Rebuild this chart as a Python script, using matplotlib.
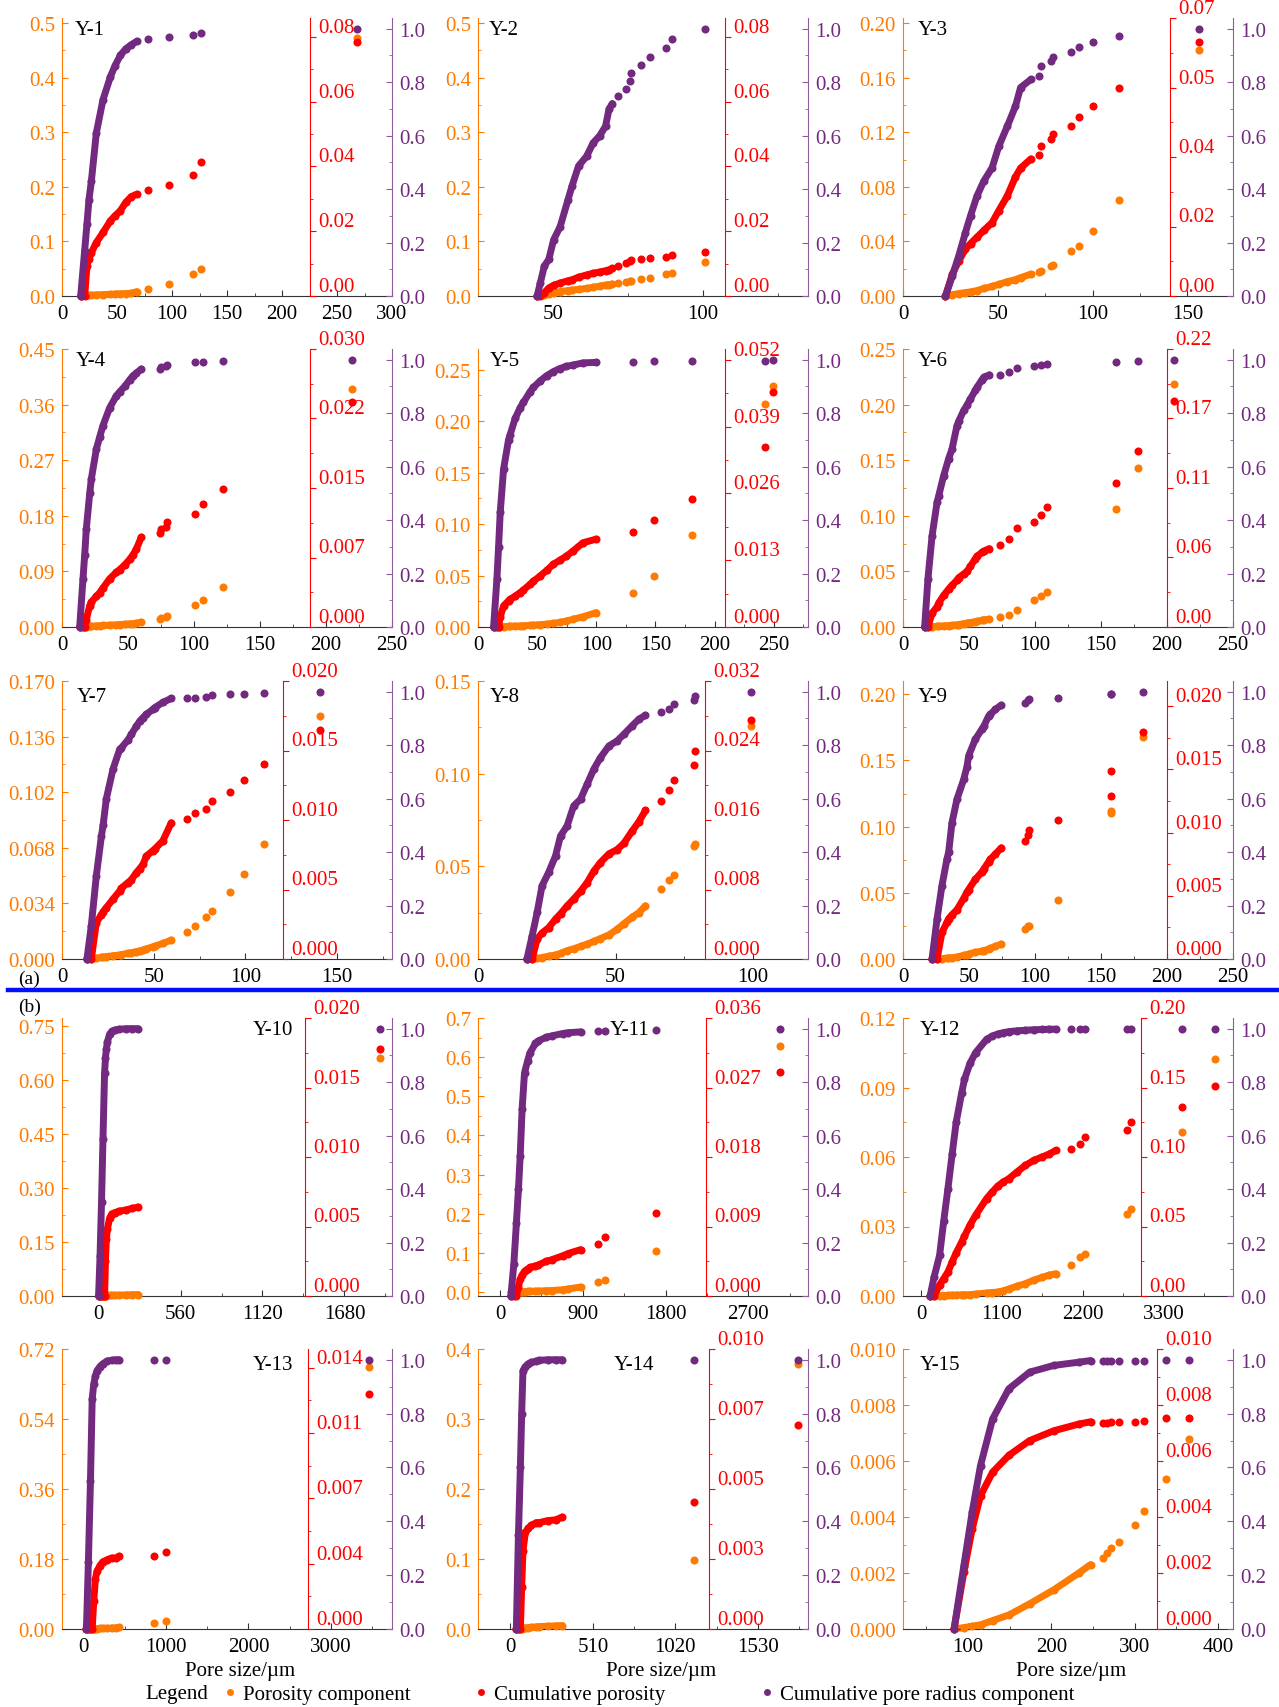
import numpy as np
import matplotlib
matplotlib.use("Agg")
import matplotlib.pyplot as plt
from matplotlib.lines import Line2D
from matplotlib.ticker import MultipleLocator, AutoMinorLocator, FormatStrFormatter

plt.rcParams['font.family'] = ['Liberation Serif', 'DejaVu Serif']
plt.rcParams['font.size'] = 15

ORANGE = '#FF7A00'
RED = '#FF0000'
PURPLE = '#72297F'

# ---- data: pore size, porosity component, cumulative porosity, cumulative pore radius component
y1_size = [17, 20.6, 22.7, 24.5, 26.7, 31.2, 37.3, 44, 48, 53, 58, 63, 68, 78, 97, 119, 126, 268]
y1_por = [0, 0.001, 0.001, 0.0012, 0.0015, 0.002, 0.0025, 0.003, 0.0035, 0.004, 0.0045, 0.005, 0.008, 0.0122, 0.0214, 0.041, 0.049, 0.472]
y1_cum = [0, 0, 0.0093, 0.0115, 0.0134, 0.0165, 0.0196, 0.0232, 0.0247, 0.0263, 0.0289, 0.0307, 0.0314, 0.0327, 0.0342, 0.0374, 0.0413, 0.0784]
y1_rad = [0, 0.17, 0.27, 0.36, 0.43, 0.61, 0.735, 0.82, 0.86, 0.90, 0.925, 0.94, 0.953, 0.96, 0.97, 0.975, 0.984, 1.0]

y2_size = [44.7, 45.8, 47.1, 48.6, 50.2, 52.4, 55, 56.3, 58.5, 61.2, 63.4, 65.6, 67.5, 68.7, 69.8, 71.7, 74.4, 75.6, 76.0, 79.2, 82.4, 87.7, 89.5, 100.7]
y2_por = [0, 0.001, 0.002, 0.004, 0.006, 0.008, 0.010, 0.011, 0.012, 0.014, 0.016, 0.018, 0.020, 0.021, 0.022, 0.023, 0.026, 0.027, 0.0275, 0.0306, 0.0336, 0.041, 0.043, 0.063]
y2_cum = [0, 0, 0.001, 0.0025, 0.0033, 0.004, 0.0047, 0.005, 0.0058, 0.0065, 0.007, 0.0074, 0.0078, 0.0081, 0.0085, 0.0093, 0.0103, 0.0108, 0.011, 0.0113, 0.0116, 0.0121, 0.0127, 0.0137]
y2_rad = [0, 0.05, 0.112, 0.137, 0.21, 0.26, 0.36, 0.41, 0.486, 0.523, 0.573, 0.6, 0.635, 0.70, 0.72, 0.747, 0.775, 0.803, 0.834, 0.865, 0.894, 0.926, 0.96, 1.0]

y3_size = [22.4, 26, 29.4, 32.9, 35.6, 39, 42.6, 47, 50.5, 55, 59.3, 62, 67.4, 71.7, 72.9, 78.2, 79, 88.7, 92.8, 100.2, 113.9, 156.2]
y3_por = [0, 0.001, 0.0018, 0.0025, 0.003, 0.004, 0.0055, 0.007, 0.0085, 0.0105, 0.012, 0.0134, 0.016, 0.0176, 0.0183, 0.022, 0.023, 0.033, 0.037, 0.0477, 0.070, 0.180]
y3_cum = [0, 0.0055, 0.0088, 0.0118, 0.0132, 0.0148, 0.0165, 0.0185, 0.0215, 0.0252, 0.030, 0.0322, 0.0345, 0.0355, 0.0378, 0.0395, 0.0408, 0.0429, 0.0451, 0.0479, 0.0525, 0.0639]
y3_rad = [0, 0.075, 0.15, 0.237, 0.30, 0.374, 0.43, 0.48, 0.56, 0.635, 0.71, 0.78, 0.81, 0.824, 0.86, 0.878, 0.894, 0.913, 0.93, 0.949, 0.974, 1.0]

y4_size = [13.4, 15.9, 17.2, 18.4, 21, 22.2, 26, 28.5, 31, 36.1, 41.2, 43.7, 47.5, 51.3, 53.8, 56.3, 60.1, 74.5, 75.3, 79, 79.5, 100.5, 106.8, 122, 219.7]
y4_por = [0, 0, 0, 0.0005, 0.001, 0.0012, 0.0018, 0.002, 0.0025, 0.003, 0.0035, 0.004, 0.0045, 0.005, 0.0055, 0.006, 0.008, 0.0135, 0.0145, 0.0167, 0.017, 0.036, 0.043, 0.065, 0.385]
y4_cum = [0, 0, 0, 0.0008, 0.0023, 0.0027, 0.0033, 0.0037, 0.0042, 0.0052, 0.0059, 0.0062, 0.0067, 0.0073, 0.0078, 0.0084, 0.0097, 0.0101, 0.0106, 0.0108, 0.0113, 0.0122, 0.0133, 0.0149, 0.0243]
y4_rad = [0, 0.18, 0.27, 0.366, 0.5, 0.553, 0.665, 0.71, 0.753, 0.82, 0.865, 0.88, 0.90, 0.925, 0.94, 0.95, 0.965, 0.965, 0.971, 0.978, 0.981, 0.99, 0.992, 0.996, 1.0]

y5_size = [13.2, 16, 17.4, 18.8, 21.6, 25.8, 27.2, 31.4, 35.6, 38.4, 44, 46.8, 52.4, 58, 63.6, 69.2, 74.8, 80.4, 88.8, 100, 130.8, 149, 180.7, 242.9, 249]
y5_por = [0, 0, 0, 0.0002, 0.0004, 0.0006, 0.0007, 0.0009, 0.001, 0.0012, 0.0016, 0.0018, 0.0022, 0.0028, 0.0035, 0.0045, 0.0058, 0.0075, 0.010, 0.014, 0.0327, 0.0496, 0.089, 0.2166, 0.2344]
y5_cum = [0, 0, 0, 0.002, 0.0041, 0.0051, 0.0054, 0.006, 0.0067, 0.0072, 0.0083, 0.0089, 0.0099, 0.011, 0.0122, 0.013, 0.0138, 0.0148, 0.0164, 0.0171, 0.0185, 0.0209, 0.025, 0.035, 0.0457]
y5_rad = [0, 0.18, 0.30, 0.43, 0.59, 0.70, 0.72, 0.78, 0.82, 0.84, 0.88, 0.896, 0.92, 0.94, 0.955, 0.967, 0.975, 0.98, 0.988, 0.99, 0.993, 0.994, 0.996, 0.996, 1.0]

y6_size = [16.4, 18.9, 22, 25.8, 27, 30.8, 34.6, 37.1, 40.9, 42.2, 46, 48.5, 51, 54.8, 56, 59.8, 61.1, 65.4, 73.2, 80, 86.4, 99, 104.8, 109, 161.4, 178, 205]
y6_por = [0, 0, 0.0003, 0.0006, 0.0007, 0.001, 0.0013, 0.0015, 0.002, 0.0022, 0.003, 0.0035, 0.004, 0.0048, 0.005, 0.006, 0.0065, 0.007, 0.0093, 0.0108, 0.0153, 0.024, 0.028, 0.0318, 0.106, 0.1426, 0.2185]
y6_cum = [0, 0, 0.011, 0.016, 0.019, 0.025, 0.03, 0.033, 0.037, 0.039, 0.042, 0.044, 0.048, 0.054, 0.056, 0.059, 0.06, 0.062, 0.0647, 0.0695, 0.0787, 0.0832, 0.0885, 0.0946, 0.1136, 0.139, 0.1786]
y6_rad = [0, 0.18, 0.34, 0.466, 0.49, 0.566, 0.63, 0.665, 0.753, 0.77, 0.81, 0.83, 0.853, 0.885, 0.896, 0.925, 0.934, 0.943, 0.944, 0.955, 0.968, 0.975, 0.98, 0.985, 0.99, 0.994, 1.0]

y7_size = [13.6, 16, 18.7, 21.5, 22.4, 24.2, 27.8, 31.5, 32.4, 36, 37.8, 40.5, 42.4, 44.2, 46, 49.6, 50.5, 55, 59.6, 68.2, 72.4, 78.7, 81.8, 91.5, 99.1, 110, 140.9]
y7_por = [0, 0, 0.0005, 0.001, 0.0012, 0.0015, 0.002, 0.0025, 0.0027, 0.0035, 0.0038, 0.0045, 0.005, 0.0055, 0.0062, 0.0075, 0.0078, 0.0095, 0.0116, 0.0167, 0.0204, 0.0259, 0.0291, 0.0407, 0.0519, 0.0702, 0.1486]
y7_cum = [0, 0, 0.0026, 0.0032, 0.0034, 0.0037, 0.0043, 0.0049, 0.0051, 0.0055, 0.0057, 0.0062, 0.0065, 0.0068, 0.0074, 0.0078, 0.0079, 0.0085, 0.0098, 0.0101, 0.0105, 0.0108, 0.0114, 0.012, 0.0129, 0.014, 0.0165]
y7_rad = [0, 0.125, 0.31, 0.46, 0.50, 0.6, 0.71, 0.785, 0.79, 0.82, 0.84, 0.87, 0.89, 0.903, 0.915, 0.934, 0.94, 0.96, 0.975, 0.975, 0.978, 0.981, 0.986, 0.99, 0.993, 0.996, 1.0]

y8_size = [17.8, 19.7, 21.5, 23.3, 25.7, 28.2, 30, 32.4, 34.8, 37.3, 39.7, 42.1, 44.5, 47.6, 50.6, 53, 56, 58.5, 60.9, 66.6, 69.4, 71.2, 78.5, 78.8, 99.4]
y8_por = [0, 0, 0.0003, 0.0008, 0.0015, 0.0022, 0.003, 0.0045, 0.0055, 0.0068, 0.008, 0.0095, 0.011, 0.013, 0.016, 0.019, 0.0225, 0.025, 0.0287, 0.0377, 0.0426, 0.0453, 0.0610, 0.0622, 0.1257]
y8_cum = [0, 0, 0.0023, 0.003, 0.0036, 0.0046, 0.0052, 0.0061, 0.0069, 0.0078, 0.0088, 0.0101, 0.0111, 0.0121, 0.0126, 0.0133, 0.0147, 0.0158, 0.0171, 0.0182, 0.0194, 0.0206, 0.0223, 0.024, 0.0275]
y8_rad = [0, 0.087, 0.174, 0.274, 0.324, 0.386, 0.46, 0.498, 0.573, 0.598, 0.654, 0.71, 0.753, 0.797, 0.816, 0.84, 0.872, 0.897, 0.912, 0.924, 0.936, 0.953, 0.969, 0.984, 1.0]

y9_size = [22, 25.8, 29.5, 33.3, 34.6, 37.1, 40.9, 46, 48.5, 49.7, 54.8, 59.8, 61.1, 64.9, 66.2, 70, 74.5, 92.2, 94.7, 95.2, 117.2, 157.6, 157.9, 181.6]
y9_por = [0, 0, 0.0003, 0.0007, 0.0008, 0.001, 0.0015, 0.0028, 0.0033, 0.0038, 0.005, 0.006, 0.0063, 0.0075, 0.008, 0.0095, 0.0113, 0.0226, 0.0247, 0.025, 0.0448, 0.11, 0.112, 0.168]
y9_cum = [0, 0, 0.0021, 0.0029, 0.0032, 0.0035, 0.0039, 0.0048, 0.0053, 0.0055, 0.0063, 0.0069, 0.0071, 0.0077, 0.0079, 0.0083, 0.0088, 0.0093, 0.0098, 0.0102, 0.011, 0.0129, 0.0149, 0.018]
y9_rad = [0, 0.15, 0.274, 0.374, 0.40, 0.51, 0.598, 0.672, 0.72, 0.76, 0.822, 0.86, 0.87, 0.909, 0.915, 0.934, 0.95, 0.959, 0.969, 0.972, 0.978, 0.99, 0.991, 1.0]

y10_size = [0, 10, 20, 30, 41, 47, 53, 60, 75, 90, 110, 140, 190, 230, 270, 1920]
y10_por = [0, 0, 0, 0, 0.0005, 0.001, 0.0012, 0.0014, 0.0016, 0.0018, 0.002, 0.0025, 0.003, 0.0035, 0.004, 0.662]
y10_cum = [0, 0, 0, 0, 0, 0.0025, 0.0041, 0.0048, 0.0056, 0.0059, 0.006, 0.0061, 0.0062, 0.0063, 0.0064, 0.0178]
y10_rad = [0, 0.15, 0.35, 0.587, 0.836, 0.89, 0.923, 0.95, 0.979, 0.99, 0.995, 0.998, 1.0, 1.0, 1.0, 1.0]

y11_size = [118, 150, 178, 200, 219, 240, 266, 300, 326, 385, 414, 503, 562, 681, 740, 876, 1066, 1143, 1700, 3049]
y11_por = [0, 0, 0, 0.0005, 0.001, 0.0012, 0.0014, 0.0017, 0.002, 0.0024, 0.0026, 0.0035, 0.004, 0.006, 0.008, 0.0128, 0.0255, 0.0298, 0.106, 0.629]
y11_cum = [0, 0, 0, 0.0012, 0.0022, 0.0027, 0.0032, 0.0035, 0.0037, 0.0039, 0.004, 0.0045, 0.0047, 0.0052, 0.0055, 0.006, 0.0067, 0.0076, 0.0107, 0.029]
y11_rad = [0, 0.12, 0.274, 0.4, 0.524, 0.7, 0.835, 0.88, 0.91, 0.945, 0.954, 0.968, 0.973, 0.982, 0.985, 0.988, 0.991, 0.991, 0.995, 1.0]

y12_size = [120, 173, 249, 305, 362, 420, 475, 550, 588, 663, 739, 889, 965, 1040, 1115, 1191, 1300, 1417, 1530, 1643, 1740, 1831, 2035, 2170, 2230, 2811, 2864, 3549, 4001]
y12_por = [0, 0, 0.0001, 0.0002, 0.0003, 0.0004, 0.0004, 0.0005, 0.0005, 0.0006, 0.0008, 0.0013, 0.0015, 0.0017, 0.0022, 0.003, 0.0042, 0.0053, 0.0068, 0.008, 0.009, 0.0096, 0.0135, 0.0168, 0.018, 0.0355, 0.0377, 0.071, 0.1023]
y12_cum = [0, 0, 0.008, 0.0125, 0.0172, 0.0245, 0.031, 0.0388, 0.043, 0.051, 0.058, 0.070, 0.0747, 0.079, 0.082, 0.0843, 0.089, 0.0939, 0.0975, 0.10, 0.102, 0.1047, 0.1059, 0.1095, 0.1147, 0.1195, 0.125, 0.1358, 0.1514]
y12_rad = [0, 0.07, 0.152, 0.28, 0.40, 0.53, 0.65, 0.76, 0.81, 0.87, 0.91, 0.96, 0.972, 0.98, 0.985, 0.989, 0.992, 0.994, 0.996, 0.997, 0.998, 0.998, 0.998, 0.998, 0.998, 0.998, 0.998, 1.0, 1.0]

y13_size = [36, 60, 85, 106, 125, 145, 165, 200, 235, 284, 340, 390, 432, 857, 1005, 3464]
y13_por = [0, 0, 0, 0, 0.0005, 0.001, 0.0012, 0.0015, 0.0018, 0.002, 0.0025, 0.003, 0.004, 0.0154, 0.0197, 0.673]
y13_cum = [0, 0, 0, 0, 0.0015, 0.0027, 0.0031, 0.0034, 0.0036, 0.0037, 0.0038, 0.0038, 0.0039, 0.0039, 0.0041, 0.0126]
y13_rad = [0, 0.25, 0.55, 0.855, 0.91, 0.94, 0.96, 0.975, 0.985, 0.995, 0.998, 1.0, 1.0, 1.0, 1.0, 1.0]

y14_size = [37, 50, 62, 70, 78, 93, 110, 130, 160, 180, 230, 280, 322, 1134, 1779]
y14_por = [0, 0, 0, 0.0005, 0.001, 0.0015, 0.002, 0.0025, 0.003, 0.0035, 0.004, 0.0045, 0.005, 0.0986, 0.3786]
y14_cum = [0, 0, 0, 0.0015, 0.0028, 0.00345, 0.0036, 0.0037, 0.0038, 0.0038, 0.00387, 0.0039, 0.004, 0.00455, 0.00729]
y14_rad = [0, 0.35, 0.6, 0.8, 0.96, 0.975, 0.985, 0.99, 0.995, 0.998, 1.0, 1.0, 1.0, 1.0, 1.0]

y15_size = [83.3, 95, 105, 115, 129.5, 149, 174, 203, 233, 247, 262, 267, 272, 281, 300, 311.5, 338, 365.6]
y15_por = [0, 0.00005, 0.0001, 0.00015, 0.0003, 0.0005, 0.0009, 0.0014, 0.002, 0.0023, 0.00255, 0.0027, 0.0029, 0.0031, 0.0037, 0.0042, 0.00536, 0.0068]
y15_cum = [0, 0.00202, 0.00357, 0.00476, 0.0056, 0.0062, 0.00673, 0.00708, 0.00732, 0.0074, 0.00736, 0.00737, 0.00738, 0.00738, 0.0074, 0.00744, 0.00752, 0.00754]
y15_rad = [0, 0.235, 0.434, 0.607, 0.78, 0.892, 0.954, 0.979, 0.991, 0.997, 0.997, 0.997, 0.997, 0.997, 0.997, 0.997, 1.0, 1.0]

red_lab_08 = ['0.00', '0.02', '0.04', '0.06', '0.08']
red_lab_020 = ['0.000', '0.005', '0.010', '0.015', '0.020']

# panel settings: data, dense count, x range/step, left axis (bottom, top, top tick, step, fmt),
# red axis (top, top tick, labels), red spine position, tag position
panels = [
    dict(name='Y-1', d=(y1_size, y1_por, y1_cum, y1_rad), n=13, xlim=(0, 300), xs=50,
         left=(0, 0.509, 0.5, 0.1, '%.1f'), red=(0.0858, 0.08, red_lab_08), rf=0.75, tag=(0.04, 0.96, 'left')),
    dict(name='Y-2', d=(y2_size, y2_por, y2_cum, y2_rad), n=15, xlim=(25, 135), xs=50,
         left=(0, 0.509, 0.5, 0.1, '%.1f'), red=(0.0858, 0.08, red_lab_08), rf=0.748, tag=(0.033, 0.96, 'left')),
    dict(name='Y-3', d=(y3_size, y3_por, y3_cum, y3_rad), n=13, xlim=(0, 174), xs=50,
         left=(0, 0.2037, 0.2, 0.04, '%.2f'), red=(0.07, 0.07, ['0.00', '0.02', '0.04', '0.05', '0.07']), rf=0.81, tag=(0.045, 0.96, 'left')),
    dict(name='Y-4', d=(y4_size, y4_por, y4_cum, y4_rad), n=17, xlim=(0, 250), xs=50,
         left=(0, 0.45, 0.45, 0.09, '%.2f'), red=(0.030, 0.030, ['0.000', '0.007', '0.015', '0.022', '0.030']), rf=0.75, tag=(0.042, 0.957, 'left')),
    dict(name='Y-5', d=(y5_size, y5_por, y5_cum, y5_rad), n=20, xlim=(0, 279), xs=50,
         left=(0, 0.27, 0.25, 0.05, '%.2f'), red=(0.0541, 0.052, ['0.000', '0.013', '0.026', '0.039', '0.052']), rf=0.748, tag=(0.036, 0.957, 'left')),
    dict(name='Y-6', d=(y6_size, y6_por, y6_cum, y6_rad), n=18, xlim=(0, 250), xs=50,
         left=(0, 0.25, 0.25, 0.05, '%.2f'), red=(0.22, 0.22, ['0.00', '0.06', '0.11', '0.17', '0.22']), rf=0.80, tag=(0.045, 0.957, 'left')),
    dict(name='Y-7', d=(y7_size, y7_por, y7_cum, y7_rad), n=19, xlim=(0, 180), xs=50,
         left=(0, 0.170, 0.170, 0.034, '%.3f'), red=(0.020, 0.020, red_lab_020), rf=0.67, tag=(0.045, 0.946, 'left')),
    dict(name='Y-8', d=(y8_size, y8_por, y8_cum, y8_rad), n=19, xlim=(0, 120), xs=50,
         left=(0, 0.15, 0.15, 0.05, '%.2f'), red=(0.032, 0.032, ['0.000', '0.008', '0.016', '0.024', '0.032']), rf=0.687, tag=(0.036, 0.946, 'left')),
    dict(name='Y-9', d=(y9_size, y9_por, y9_cum, y9_rad), n=17, xlim=(0, 250), xs=50,
         left=(0, 0.21, 0.20, 0.05, '%.2f'), red=(0.022, 0.020, red_lab_020), rf=0.80, tag=(0.045, 0.946, 'left')),
    dict(name='Y-10', d=(y10_size, y10_por, y10_cum, y10_rad), n=15, xlim=(-250, 2005), xs=560,
         left=(0, 0.772, 0.75, 0.15, '%.2f'), red=(0.020, 0.020, red_lab_020), rf=0.736, tag=(0.70, 0.957, 'right')),
    dict(name='Y-11', d=(y11_size, y11_por, y11_cum, y11_rad), n=16, xlim=(-240, 3350), xs=900,
         left=(-0.01, 0.7, 0.7, 0.1, '%.1f'), red=(0.036, 0.036, ['0.000', '0.009', '0.018', '0.027', '0.036']), rf=0.69, tag=(0.52, 0.957, 'right')),
    dict(name='Y-12', d=(y12_size, y12_por, y12_cum, y12_rad), n=22, xlim=(-250, 4250), xs=1100,
         left=(0, 0.12, 0.12, 0.03, '%.2f'), red=(0.20, 0.20, ['0.00', '0.05', '0.10', '0.15', '0.20']), rf=0.722, tag=(0.05, 0.957, 'left')),
    dict(name='Y-13', d=(y13_size, y13_por, y13_cum, y13_rad), n=13, xlim=(-260, 3740), xs=1000,
         left=(0, 0.72, 0.72, 0.18, '%.2f'), red=(0.015, 0.014, ['0.000', '0.004', '0.007', '0.011', '0.014']), rf=0.745, tag=(0.70, 0.946, 'right')),
    dict(name='Y-14', d=(y14_size, y14_por, y14_cum, y14_rad), n=13, xlim=(-200, 1840), xs=510,
         left=(0, 0.4, 0.4, 0.1, '%.1f'), red=(0.010, 0.010, ['0.000', '0.003', '0.005', '0.007', '0.010']), rf=0.70, tag=(0.533, 0.946, 'right')),
    dict(name='Y-15', d=(y15_size, y15_por, y15_cum, y15_rad), n=10, xlim=(22, 418), xs=100,
         left=(0, 0.010, 0.010, 0.002, '%.3f'), red=(0.010, 0.010, ['0.000', '0.002', '0.004', '0.006', '0.008', '0.010']), rf=0.77, tag=(0.05, 0.946, 'left')),
]

W, H = 1279, 1708
COLS = [(62, 392), (478, 808), (903, 1233)]
ROWS = [(19, 297), (350, 628), (682, 960), (1019, 1297), (1350, 1630)]

fig = plt.figure(figsize=(W / 100, H / 100), dpi=100)


def rect(l, t, r, b):
    return [l / W, 1 - b / H, (r - l) / W, (b - t) / H]


def draw_series(axis, x, y, n, color):
    axis.plot(x[:n], y[:n], color=color, lw=5.0, solid_capstyle='round',
              solid_joinstyle='round', zorder=2, clip_on=False)
    axis.plot(x, y, ls='none', marker='o', ms=5.8, color=color, mew=0,
              zorder=3, clip_on=False)


for i, p in enumerate(panels):
    l, r = COLS[i % 3]
    t, b = ROWS[i // 3]
    ax = fig.add_axes(rect(l, t, r, b))
    axr = ax.twinx()
    axp = ax.twinx()

    size, por, cum, rad = p['d']
    draw_series(ax, size, por, p['n'], ORANGE)
    draw_series(axr, size, cum, p['n'], RED)
    draw_series(axp, size, rad, p['n'], PURPLE)

    # main axis (orange, left)
    for s in ('top', 'right'):
        ax.spines[s].set_visible(False)
    ax.spines['left'].set_color(ORANGE)
    ax.spines['bottom'].set_color('#333333')
    lb, lt, ltick, lstep, lfmt = p['left']
    ax.set_ylim(lb, lt)
    ax.set_yticks(np.linspace(0, ltick, int(round(ltick / lstep)) + 1))
    ax.yaxis.set_major_formatter(FormatStrFormatter(lfmt))
    ax.yaxis.set_minor_locator(AutoMinorLocator(2))
    ax.tick_params(axis='y', which='both', direction='in', colors=ORANGE, pad=5)
    ax.tick_params(axis='y', which='major', length=4)
    ax.tick_params(axis='y', which='minor', length=2.5)
    ax.set_xlim(*p['xlim'])
    ax.xaxis.set_major_locator(MultipleLocator(p['xs']))
    ax.xaxis.set_minor_locator(MultipleLocator(p['xs'] / 2))
    ax.xaxis.set_major_formatter(FormatStrFormatter('%d'))
    ax.tick_params(axis='x', which='both', direction='in', colors='#333333',
                   labelcolor='black', pad=6)
    ax.tick_params(axis='x', which='major', length=4)
    ax.tick_params(axis='x', which='minor', length=2.5)

    # red axis, spine inside the panel
    for s in ('top', 'left', 'bottom'):
        axr.spines[s].set_visible(False)
    axr.spines['right'].set_position(('axes', p['rf']))
    axr.spines['right'].set_color(RED)
    rtop, rtick, rlabels = p['red']
    axr.set_ylim(0, rtop)
    axr.set_yticks(np.linspace(0, rtick, len(rlabels)), rlabels, va='bottom')
    axr.yaxis.set_minor_locator(AutoMinorLocator(2))
    axr.tick_params(axis='y', which='both', direction='out', colors=RED, pad=2)
    axr.tick_params(axis='y', which='major', length=4)
    axr.tick_params(axis='y', which='minor', length=2.5)

    # purple axis at the right edge
    for s in ('top', 'left', 'bottom'):
        axp.spines[s].set_visible(False)
    axp.spines['right'].set_color('#8E5C9A')
    axp.set_ylim(0, 1.04)
    axp.set_yticks(np.linspace(0, 1, 6))
    axp.yaxis.set_major_formatter(FormatStrFormatter('%.1f'))
    axp.yaxis.set_minor_locator(AutoMinorLocator(2))
    axp.tick_params(axis='y', which='both', direction='in', colors='#8E5C9A',
                    labelcolor=PURPLE, pad=5)
    axp.tick_params(axis='y', which='major', length=4)
    axp.tick_params(axis='y', which='minor', length=2.5)

    tx, ty, tha = p['tag']
    axp.text(tx, ty, p['name'], transform=axp.transAxes, ha=tha, va='center',
             fontsize=15, color='black', zorder=10)

# separator and sub-figure marks
fig.add_artist(Line2D([8 / W, 1.0], [1 - 991 / H, 1 - 991 / H], color='#0010FF', lw=3.2))
fig.text(18 / W, 1 - 979 / H, '(a)', ha='left', va='center', fontsize=14)
fig.text(18 / W, 1 - 1007 / H, '(b)', ha='left', va='center', fontsize=14)

for cx in (240, 661, 1071):
    fig.text(cx / W, 1 - 1672 / H, 'Pore size/\u00b5m', ha='center', va='center', fontsize=15)

# legend row
fig.text(145 / W, 1 - 1695 / H, 'Legend', ha='left', va='center', fontsize=15)
legend_items = [('Porosity component', ORANGE, 230),
                ('Cumulative porosity', RED, 481),
                ('Cumulative pore radius component', PURPLE, 767)]
for label, color, px in legend_items:
    h = Line2D([], [], ls='none', marker='o', ms=5, color=color, mew=0)
    fig.legend([h], [label], loc='center left', bbox_to_anchor=((px - 6) / W, 1 - 1695 / H),
               frameon=False, handlelength=0.6, handletextpad=0.3, borderpad=0,
               borderaxespad=0, fontsize=15)

fig.savefig('out.png', dpi=100)
